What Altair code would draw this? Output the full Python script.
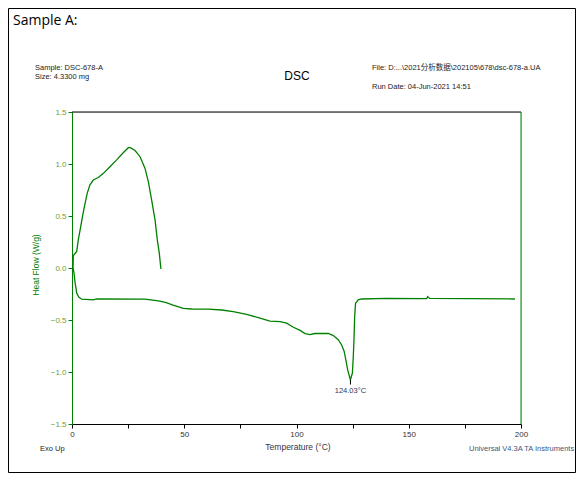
import altair as alt
import pandas as pd

# ---- data ----
run1_temp = [0.3, 0.6, 2.1, 2.8, 3.9, 4.8, 5.8, 6.8, 8.0, 9.5, 11.7, 14.0, 16.9, 19.9,
             22.9, 25.1, 26.0, 28.1, 30.3, 32.5, 34.0, 35.5, 37.0, 38.0, 38.9, 39.6]
run1_hf = [0.02, 0.12, 0.16, 0.27, 0.40, 0.51, 0.62, 0.72, 0.80, 0.846, 0.87, 0.91, 0.974, 1.04,
           1.11, 1.157, 1.157, 1.13, 1.07, 0.96, 0.83, 0.65, 0.46, 0.27, 0.14, -0.01]

run2_temp = [0.3, 0.5, 0.9, 1.3, 2.1, 3.0, 4.3, 9.5, 11.0, 32.5, 38.5, 42.0, 45.0, 49.6, 53.3,
             60.7, 66.7, 71.8, 77.8, 83.0, 88.2, 92.7, 95.6, 98.6, 101.6, 103.8, 106.0, 108.2,
             114.2, 116.4, 118.6, 120.1, 121.2, 122.0, 122.8, 123.8, 124.03, 124.9, 125.3,
             125.6, 125.9, 126.3, 127.5, 129.0, 140.2, 158.0, 158.4, 159.3, 197.3]
run2_hf = [0.12, 0.0, -0.05, -0.13, -0.24, -0.28, -0.30, -0.307, -0.298, -0.30, -0.317, -0.333,
           -0.356, -0.388, -0.394, -0.396, -0.404, -0.42, -0.445, -0.478, -0.51, -0.516, -0.53,
           -0.57, -0.60, -0.63, -0.64, -0.63, -0.63, -0.65, -0.69, -0.74, -0.80, -0.885, -0.98,
           -1.06, -1.075, -1.01, -0.85, -0.69, -0.47, -0.34, -0.307, -0.298, -0.292, -0.295,
           -0.275, -0.292, -0.298]

peak_temp = [124.03]
peak_hf = [-1.075]
peak_label = ["124.03°C"]

y_ticks = [-1.5 + 0.125 * i for i in range(25)]
x_ticks = [12.5 * i for i in range(17)]

# ---- layout ----
W, H = 449, 312
PL, PT, PR, PB = 64, 104, 55, 49
GREEN = "#008000"
FONT = "Liberation Sans"

rows = []
for i, (t, h) in enumerate(zip(run1_temp, run1_hf)):
    rows.append({"run": "1", "i": i, "T": t, "HF": h})
for i, (t, h) in enumerate(zip(run2_temp, run2_hf)):
    rows.append({"run": "2", "i": i, "T": t, "HF": h})
df = pd.DataFrame(rows)

xscale = alt.Scale(domain=[0, 200], nice=False, zero=False)
yscale = alt.Scale(domain=[-1.5, 1.5], nice=False, zero=False)

lines = alt.Chart(df).mark_line(color=GREEN, strokeWidth=1.3, clip=True).encode(
    x=alt.X("T:Q", scale=xscale, axis=alt.Axis(
        values=x_ticks, title=None, grid=False,
        labelExpr="datum.value % 50 == 0 ? format(datum.value, 'd') : ''",
        domainColor="black", tickColor="black", tickSize=4, labelPadding=2,
        labelFont=FONT, labelFontSize=8, labelColor="#333333", labelFlush=False)),
    y=alt.Y("HF:Q", scale=yscale, axis=alt.Axis(
        values=y_ticks, title=None, grid=False,
        labelExpr="abs(datum.value*2 - round(datum.value*2)) < 0.001 ? format(datum.value, '.1f') : ''",
        domainColor=GREEN, tickColor=GREEN, tickSize=4, labelPadding=2,
        labelFont=FONT, labelFontSize=8, labelColor="#6e9e3a", labelFlush=False)),
    detail="run:N",
    order="i:Q",
)

pk = pd.DataFrame({"T": peak_temp, "HF": peak_hf, "lab": peak_label})
peak_mark = alt.Chart(pk).mark_rule(color="black", strokeWidth=1).encode(
    x=alt.X("T:Q", scale=xscale),
    y=alt.Y("HF:Q", scale=yscale),
    y2=alt.Y2(datum=-1.12),
)
peak_text = alt.Chart(pk).mark_text(font=FONT, fontSize=7.5, color="#333355",
                                    baseline="alphabetic", dy=13).encode(
    x=alt.X("T:Q", scale=xscale),
    y=alt.Y("HF:Q", scale=yscale),
    text="lab:N",
)

one = pd.DataFrame({"a": [0]})

def txt(s, x, y, size=8, color="#222222", align="left", font=FONT, angle=0, baseline="alphabetic"):
    kw = dict(font=font, fontSize=size, color=color, align=align, baseline=baseline)
    if angle:
        kw["angle"] = angle
    return alt.Chart(one).mark_text(**kw).encode(
        x=alt.value(x), y=alt.value(y), text=alt.value(s))

top_rule = alt.Chart(one).mark_rule(color="black", strokeWidth=1).encode(
    x=alt.value(0), x2=alt.value(W), y=alt.value(0))
right_rule = alt.Chart(one).mark_rule(color=GREEN, strokeWidth=1).encode(
    x=alt.value(W), y=alt.value(0), y2=alt.value(H))
frame = alt.Chart(one).mark_rect(fill=None, stroke="black", strokeWidth=1).encode(
    x=alt.value(-PL + 0.5), x2=alt.value(W + PR - 0.5),
    y=alt.value(-PT + 0.5), y2=alt.value(H + PB - 0.5))

texts = [
    txt("Sample A:", -59, -87, size=14, color="black", font="Open Sans"),
    txt("Sample: DSC-678-A", -37, -42, size=7.5),
    txt("Size:  4.3300 mg", -37, -33, size=7.5),
    txt("DSC", 225, -32, size=12, color="black", align="center"),
    txt("File: D:...\\2021分析数据\\202105\\678\\dsc-678-a.UA", 300, -42, size=7.5,
        font="Liberation Sans, Noto Sans CJK SC"),
    txt("Run Date: 04-Jun-2021  14:51", 300, -23, size=7.5),
    txt("Exo Up", -32, 339, size=7.5),
    txt("Universal V4.3A TA Instruments", 397, 339, size=7.5, color="#445577"),
    txt("Temperature  (°C)", 226, 338, size=8.5, color="#333344", align="center"),
    txt("Heat Flow (W/g)", -36, 153, size=8.5, color=GREEN, align="center",
        angle=270, baseline="middle"),
]

chart = alt.layer(frame, top_rule, right_rule, lines, peak_mark, peak_text, *texts).properties(
    width=W, height=H,
    padding={"left": PL, "top": PT, "right": PR, "bottom": PB},
    autosize=alt.AutoSizeParams(type="none"),
).configure_view(stroke=None).configure(background="white")

chart.save("out.html", embed_options={"renderer": "svg", "actions": False})
